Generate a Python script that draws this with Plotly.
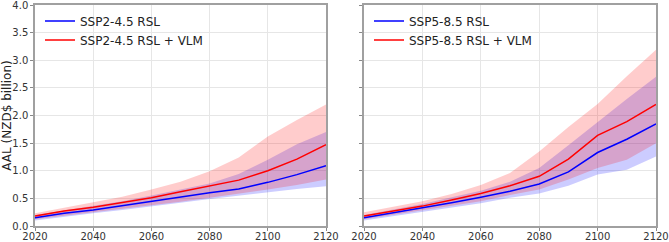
import plotly.graph_objects as go

years = [2020, 2030, 2040, 2050, 2060, 2070, 2080, 2090, 2100, 2110, 2120]

# SSP2-4.5
s245_rsl = [0.15, 0.23, 0.29, 0.37, 0.45, 0.53, 0.60, 0.67, 0.79, 0.93, 1.09]
s245_rsl_lo = [0.10, 0.17, 0.23, 0.29, 0.35, 0.42, 0.49, 0.55, 0.62, 0.67, 0.72]
s245_rsl_hi = [0.20, 0.28, 0.36, 0.45, 0.55, 0.66, 0.77, 0.94, 1.20, 1.48, 1.70]
s245_vlm = [0.18, 0.27, 0.34, 0.42, 0.51, 0.62, 0.72, 0.83, 1.00, 1.21, 1.47]
s245_vlm_lo = [0.12, 0.19, 0.25, 0.31, 0.37, 0.44, 0.51, 0.58, 0.66, 0.74, 0.84]
s245_vlm_hi = [0.23, 0.33, 0.42, 0.53, 0.66, 0.80, 0.99, 1.24, 1.62, 1.92, 2.20]

# SSP5-8.5
s585_rsl = [0.15, 0.24, 0.32, 0.42, 0.52, 0.63, 0.76, 0.98, 1.33, 1.57, 1.85]
s585_rsl_lo = [0.10, 0.18, 0.25, 0.33, 0.41, 0.51, 0.59, 0.73, 0.93, 1.02, 1.26]
s585_rsl_hi = [0.20, 0.30, 0.40, 0.52, 0.64, 0.80, 1.05, 1.46, 1.88, 2.30, 2.70]
s585_vlm = [0.18, 0.27, 0.36, 0.47, 0.59, 0.73, 0.90, 1.21, 1.64, 1.89, 2.20]
s585_vlm_lo = [0.12, 0.20, 0.28, 0.36, 0.45, 0.56, 0.66, 0.84, 1.05, 1.20, 1.50]
s585_vlm_hi = [0.25, 0.35, 0.45, 0.58, 0.74, 0.96, 1.35, 1.79, 2.21, 2.71, 3.19]

x_ticks = [2020, 2040, 2060, 2080, 2100, 2120]
y_ticks = [0, 0.5, 1, 1.5, 2, 2.5, 3, 3.5, 4]

panels = [
    ("x", "y", "legend", "SSP2-4.5", s245_rsl, s245_rsl_lo, s245_rsl_hi, s245_vlm, s245_vlm_lo, s245_vlm_hi),
    ("x2", "y2", "legend2", "SSP5-8.5", s585_rsl, s585_rsl_lo, s585_rsl_hi, s585_vlm, s585_vlm_lo, s585_vlm_hi),
]

BLUE = "#0000ff"
RED = "#ff0000"
BLUE_F = "rgba(0,0,255,0.2)"
RED_F = "rgba(255,0,0,0.2)"

fig = go.Figure()
for xa, ya, leg, name, rsl, rlo, rhi, vlm, vlo, vhi in panels:
    for lo, hi, fc in [(rlo, rhi, BLUE_F), (vlo, vhi, RED_F)]:
        fig.add_trace(go.Scatter(x=years, y=lo, mode="lines", line=dict(width=0),
                                 showlegend=False, hoverinfo="skip", xaxis=xa, yaxis=ya))
        fig.add_trace(go.Scatter(x=years, y=hi, mode="lines", line=dict(width=0),
                                 fill="tonexty", fillcolor=fc, showlegend=False,
                                 hoverinfo="skip", xaxis=xa, yaxis=ya))
    fig.add_trace(go.Scatter(x=years, y=rsl, mode="lines", name=f"{name} RSL",
                             line=dict(color=BLUE, width=1.5), xaxis=xa, yaxis=ya, legend=leg))
    fig.add_trace(go.Scatter(x=years, y=vlm, mode="lines", name=f"{name} RSL + VLM",
                             line=dict(color=RED, width=1.5), xaxis=xa, yaxis=ya, legend=leg))

W, H = 669, 242
ml, mr, mt, mb = 35, 13, 5, 16
pw = W - ml - mr
ph = H - mt - mb
dom1 = [0, (326 - ml) / pw]
dom2 = [(364 - ml) / pw, 1]

axis_common = dict(
    showline=True, linecolor="#a0a0a0", linewidth=1.5, mirror=True,
    showgrid=True, gridcolor="#e6e6e6", gridwidth=1,
    ticks="outside", ticklen=3, tickcolor="#888888",
    tickfont=dict(family="DejaVu Sans", size=10, color="#333333"),
    zeroline=False, automargin=False, ticklabeloverflow="allow",
)
xcommon = dict(axis_common, range=[2020, 2120], tickvals=x_ticks, ticklabelstandoff=-3)
ycommon = dict(axis_common, range=[0, 4], tickvals=y_ticks)

legend_common = dict(yanchor="top", xanchor="left", bgcolor="rgba(0,0,0,0)",
                     font=dict(family="DejaVu Sans", size=12, color="#222222"),
                     tracegroupgap=0, itemwidth=30, traceorder="normal")

fig.update_layout(
    width=W, height=H,
    margin=dict(l=ml, r=mr, t=mt, b=mb),
    paper_bgcolor="white", plot_bgcolor="white",
    font=dict(family="DejaVu Sans", size=10, color="#333333"),
    xaxis=dict(xcommon, domain=dom1, anchor="y"),
    yaxis=dict(ycommon, domain=[0, 1], anchor="x", tickformat=".1f",
               title=dict(text="AAL (NZD$ billion)", standoff=5,
                          font=dict(family="DejaVu Sans", size=12, color="#222222"))),
    xaxis2=dict(xcommon, domain=dom2, anchor="y2"),
    yaxis2=dict(ycommon, domain=[0, 1], anchor="x2", showticklabels=False),
    legend=dict(legend_common, x=5 / pw, y=1 - 1.5 / ph),
    legend2=dict(legend_common, x=dom2[0] + 5 / pw, y=1 - 1.5 / ph),
    showlegend=True,
)

fig.write_html("out.html")
